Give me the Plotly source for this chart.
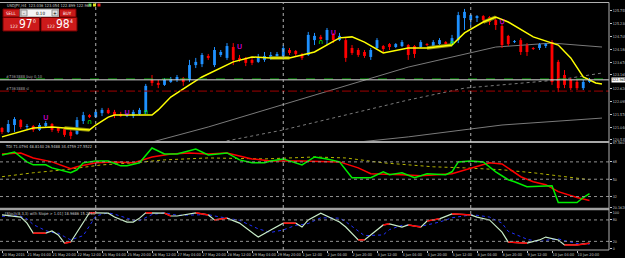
import plotly.graph_objects as go

# ---------------- data ----------------
bars = list(range(95))
opens = [121.02,120.86,121.14,121.34,121.06,121.10,120.94,121.10,121.18,121.02,
         120.98,120.86,120.78,121.30,121.54,121.46,121.62,121.75,121.67,121.58,
         121.50,121.50,121.58,121.67,122.96,122.84,122.76,122.88,122.96,123.04,
         122.96,123.56,123.60,123.93,123.56,123.97,123.85,124.29,123.85,123.85,
         123.77,123.69,123.77,123.85,123.89,123.85,124.17,124.13,123.97,123.97,
         124.57,124.70,124.57,124.78,124.57,124.57,124.25,124.17,124.09,123.89,
         124.25,124.33,124.41,124.29,124.33,124.37,124.33,124.29,124.41,124.33,
         124.41,124.49,124.41,124.57,125.46,125.38,125.46,125.54,125.50,125.38,
         125.14,124.74,124.49,124.57,124.37,124.25,124.25,124.33,124.49,123.69,
         123.16,122.96,122.88,122.63,122.88]
highs = [121.06,121.34,121.46,121.38,121.18,121.14,121.22,121.30,121.22,121.06,
         121.02,120.94,121.46,121.67,121.58,121.75,121.83,121.83,121.75,121.67,
         121.62,121.75,121.83,122.80,123.16,122.96,123.04,123.08,123.16,123.08,
         123.77,123.85,124.05,124.01,124.29,124.17,124.45,124.45,123.97,123.89,
         123.85,124.01,124.09,124.09,124.09,124.37,124.25,124.17,124.05,124.90,
         124.86,124.78,125.06,124.86,124.86,124.65,124.37,124.25,124.17,124.25,
         124.65,124.37,124.45,124.45,124.57,124.41,124.37,124.57,124.45,124.57,
         124.65,124.53,124.78,125.71,125.83,125.62,125.58,125.58,125.54,125.46,
         125.22,124.78,124.57,124.65,124.45,124.29,124.45,124.45,124.57,123.77,
         123.36,123.04,122.96,122.96,123.04]
lows = [120.78,120.82,120.86,120.98,120.98,120.86,120.90,121.02,120.86,120.82,
        120.66,120.57,120.74,121.18,121.42,121.42,121.50,121.58,121.42,121.46,
        121.46,121.42,121.54,121.58,122.72,122.63,122.72,122.84,122.88,122.72,
        122.88,123.44,123.48,123.77,123.48,123.89,123.77,123.56,123.69,123.52,
        123.56,123.65,123.69,123.77,123.85,123.77,123.97,123.93,123.77,123.93,
        124.37,124.57,124.37,124.45,124.53,123.69,123.97,123.89,123.85,123.77,
        124.17,124.09,124.17,124.25,124.29,123.77,123.85,124.25,124.33,124.29,
        124.37,124.37,124.37,124.45,124.98,125.18,125.30,125.30,125.18,124.98,
        124.25,124.33,124.45,123.97,123.93,124.17,124.17,124.25,122.76,122.47,
        122.63,122.55,122.55,122.55,122.84]
closes = [120.86,121.18,121.38,121.06,121.10,120.94,121.14,121.22,120.94,120.90,
          120.74,120.70,121.34,121.54,121.46,121.67,121.75,121.62,121.54,121.50,
          121.58,121.67,121.75,122.72,122.84,122.76,122.96,123.00,123.08,122.88,
          123.56,123.69,123.97,123.85,124.17,124.09,124.33,123.77,123.77,123.65,
          123.65,123.89,123.93,123.97,124.01,124.25,124.05,124.01,123.85,124.78,
          124.74,124.61,124.98,124.57,124.74,123.85,124.05,123.97,123.93,124.17,
          124.57,124.21,124.29,124.41,124.49,123.97,124.01,124.49,124.37,124.49,
          124.57,124.41,124.65,125.58,125.71,125.58,125.54,125.38,125.30,125.18,
          124.37,124.41,124.53,124.09,124.09,124.21,124.41,124.41,122.88,122.63,
          122.76,122.63,122.63,122.88,122.96]

ma_bars = [0,3,5,8,10,14,15,17,18,24,25,27,30,32,37,40,43,46,50,54,56,58,61,65,68,72,74,77,79,81,85,89,91,93,95,96]
ma_vals = [120.66,120.86,121.02,121.06,121.02,120.94,121.14,121.46,121.54,121.54,121.75,122.27,122.76,123.08,
           123.69,123.89,123.85,123.85,124.09,124.66,124.70,124.49,124.05,124.25,124.25,124.37,124.86,125.30,
           125.50,125.30,124.70,124.37,123.85,123.08,122.84,122.80]
ma_flat_ranges = [(10, 14), (43, 46), (68, 72), (77, 79)]

gray_a_bars = [24, 33, 65, 79, 88, 96]
gray_a_vals = [120.45, 121.06, 123.48, 124.29, 124.45, 124.29]
gray_b_bars = [35, 45, 65, 74, 89, 96]
gray_b_vals = [120.45, 120.94, 122.15, 122.63, 122.96, 123.24]
gray_c_bars = [57, 65, 80, 96]
gray_c_vals = [120.45, 120.66, 121.14, 121.42]

up_sig_bars = [7, 20, 38, 53, 80]
up_sig_vals = [121.42, 121.62, 124.29, 124.86, 125.30]
dn_sig_bars = [14, 23, 51, 72]
dn_sig_vals = [121.26, 121.67, 124.49, 124.45]

buy_level = 123.00
bid_price = 122.965
sl_level = 122.51

price_ticks = [125.755,125.230,124.705,124.180,123.670,123.165,122.620,122.095,121.570,121.040,120.535]

tdi_green_bars = [0,2,4,5,7,8,11,12,13,15,17,19,20,22,24,26,28,31,33,36,38,40,42,43,45,48,50,52,54,56,59,61,62,64,66,68,71,72,73,75,77,79,81,82,84,87,88,89,91,92,93,94]
tdi_green_vals = [75.2,78.3,68.0,64.9,64.9,61.8,56.7,59.8,67.0,69.0,69.0,63.9,63.9,67.0,82.4,76.2,76.2,81.4,75.2,77.3,70.1,67.0,67.0,69.0,71.1,64.9,73.1,71.1,68.0,51.5,51.5,57.7,54.6,56.7,51.5,55.7,54.6,57.7,68.0,69.0,68.0,57.7,49.5,47.4,42.3,43.3,43.3,25.8,25.8,25.8,31.0,35.1]
tdi_red_bars = [0,3,5,8,11,12,15,18,21,24,27,30,33,36,40,43,48,54,57,59,64,67,72,76,78,80,83,85,87,89,92,94]
tdi_red_vals = [76.2,77.3,72.1,68.0,60.8,62.9,67.0,68.0,67.0,73.1,76.2,77.3,76.2,77.3,71.1,69.0,69.0,68.0,61.8,55.7,54.6,53.6,55.7,62.9,67.0,65.9,52.6,47.4,44.3,37.1,31.0,27.9]
tdi_base_bars = [0,5,10,16,21,26,33,42,50,55,61,65,69,74,80,85,90,94]
tdi_base_vals = [52.6,56.7,59.8,64.9,67.0,70.1,72.1,71.1,73.1,72.1,67.0,64.9,62.9,61.8,59.8,56.7,52.6,49.5]
tdi_levels = [68, 50, 32]
tdi_ticks = [87.5607, 68, 50, 32, 20.1628]
tdi_ticktext = ["87.5607", "68", "50", "32", "20.1628"]

st_bars = [0,2,3,4,5,7,8,9,10,11,13,14,15,17,18,20,21,22,23,24,26,27,28,31,33,34,36,38,41,43,45,47,48,49,51,54,55,57,58,61,62,64,65,67,68,70,72,75,76,78,80,81,84,86,87,89,90,92,94]
st_main = [94,91,88,71,43,43,49,38,15,18,74,100,100,99,88,74,74,85,100,100,99,91,91,100,94,80,85,71,32,52,71,71,60,80,99,74,60,24,24,66,69,60,66,60,77,83,97,94,88,80,46,18,15,24,32,24,10,10,15]
st_signal = [90,92,90,83,67,50,45,43,33,24,36,64,91,100,96,85,79,78,86,95,100,96,93,94,95,91,86,79,55,45,52,65,67,70,86,85,75,48,36,38,53,65,65,62,66,74,86,94,93,88,71,48,26,19,23,27,22,14,12]
st_red_ranges = [(5,7),(10,11),(14,15),(23,24),(26,27),(31,33),(34,36),(45,47),(57,58),(61,62),(65,67),(68,70),(72,75),(81,84),(90,94)]
st_levels = [80, 20]
st_ticks = [100, 80, 20, 0]

date_ticks = list(range(0, 93, 4))
date_labels = ["20 May 2015","21 May 04:00","21 May 20:00","22 May 12:00","25 May 04:00","25 May 20:00",
               "26 May 12:00","27 May 04:00","27 May 20:00","28 May 12:00","29 May 04:00","29 May 20:00",
               "1 Jun 12:00","2 Jun 04:00","2 Jun 20:00","3 Jun 12:00","4 Jun 04:00","4 Jun 20:00",
               "5 Jun 12:00","8 Jun 04:00","8 Jun 20:00","9 Jun 12:00","10 Jun 04:00","10 Jun 20:00"]
week_seps = [15, 45, 75]

title_text = "USDJPY,H4  123.036 123.054 122.899 122.965"
tdi_label = "TDI 71.0794 48.8140 26.5488 34.4759 27.5522"
st_label = "[Stoch(8,3,3) with Slope > 1.01] 18.9686 15.2260"

# ---------------- figure ----------------
UP = "#1E90FF"
DN = "#FF0000"
FG = "#c8c8c8"
FONT = "DejaVu Sans Condensed, DejaVu Sans"
AX_SIZE = 3.7
fig = go.Figure()

fig.add_trace(go.Scatter(x=gray_a_bars, y=gray_a_vals, mode="lines", line=dict(color="#7a7a7a", width=1), xaxis="x", yaxis="y"))
fig.add_trace(go.Scatter(x=gray_b_bars, y=gray_b_vals, mode="lines", line=dict(color="#7a7a7a", width=1, dash="dot"), xaxis="x", yaxis="y"))
fig.add_trace(go.Scatter(x=gray_c_bars, y=gray_c_vals, mode="lines", line=dict(color="#7a7a7a", width=1), xaxis="x", yaxis="y"))

for col, cond in ((UP, lambda o, c: c >= o), (DN, lambda o, c: c < o)):
    wx, wy, bx, bh, bb = [], [], [], [], []
    for i, o, h, l, c in zip(bars, opens, highs, lows, closes):
        if cond(o, c):
            wx += [i, i, None]
            wy += [l, h, None]
            bx.append(i)
            bh.append(max(abs(c - o), 0.025))
            bb.append(min(o, c))
    fig.add_trace(go.Scatter(x=wx, y=wy, mode="lines", line=dict(color=col, width=1), xaxis="x", yaxis="y"))
    fig.add_trace(go.Bar(x=bx, y=bh, base=bb, width=0.45, marker=dict(color=col, line=dict(width=0)), xaxis="x", yaxis="y"))

for a, b in ma_flat_ranges:
    xs = [x for x in ma_bars if a <= x <= b]
    ys = [v for x, v in zip(ma_bars, ma_vals) if a <= x <= b]
    fig.add_trace(go.Scatter(x=xs, y=ys, mode="lines", line=dict(color="#8a8a10", width=3.5), xaxis="x", yaxis="y"))
fig.add_trace(go.Scatter(x=ma_bars, y=ma_vals, mode="lines", line=dict(color="#ffff00", width=1.5), xaxis="x", yaxis="y"))

fig.add_trace(go.Scatter(x=up_sig_bars, y=up_sig_vals, mode="text", text=["U"] * len(up_sig_bars),
                         textfont=dict(color="#ff00ff", size=7, family="DejaVu Sans"), xaxis="x", yaxis="y"))
fig.add_trace(go.Scatter(x=dn_sig_bars, y=dn_sig_vals, mode="text", text=["\u2229"] * len(dn_sig_bars),
                         textfont=dict(color="#00ff00", size=7, family="DejaVu Sans"), xaxis="x", yaxis="y"))

fig.add_trace(go.Scatter(x=tdi_base_bars, y=tdi_base_vals, mode="lines", line=dict(color="#b4b400", width=1, dash="dot"), xaxis="x2", yaxis="y2"))
fig.add_trace(go.Scatter(x=tdi_red_bars, y=tdi_red_vals, mode="lines", line=dict(color="#ff0000", width=1.5), xaxis="x2", yaxis="y2"))
fig.add_trace(go.Scatter(x=tdi_green_bars, y=tdi_green_vals, mode="lines", line=dict(color="#00ee00", width=1.5), xaxis="x2", yaxis="y2"))

fig.add_trace(go.Scatter(x=st_bars, y=st_signal, mode="lines", line=dict(color="#2030ff", width=1, dash="dot"), xaxis="x3", yaxis="y3"))
fig.add_trace(go.Scatter(x=st_bars, y=st_main, mode="lines", line=dict(color="#c8ecc8", width=1.2), xaxis="x3", yaxis="y3"))
rx, ry = [], []
for a, b in st_red_ranges:
    for x, v in zip(st_bars, st_main):
        if a <= x <= b:
            rx.append(x); ry.append(v)
    rx.append(None); ry.append(None)
fig.add_trace(go.Scatter(x=rx, y=ry, mode="lines", line=dict(color="#ff0000", width=1.5), xaxis="x3", yaxis="y3"))

# ---------------- layout ----------------
XR = [-0.32, 97.12]
PAPER_H = 250.0
def fy(px):
    return (PAPER_H - px) / PAPER_H

ax_common = dict(range=XR, showgrid=False, zeroline=False, showline=False, fixedrange=True, automargin=False)
yax_common = dict(side="right", showgrid=False, zeroline=False, showline=False, ticks="outside", ticklen=2,
                  tickcolor=FG, automargin=False, tickfont=dict(size=AX_SIZE, color=FG, family=FONT))

shapes = []
shapes.append(dict(type="line", xref="x", yref="y", x0=XR[0], x1=XR[1], y0=buy_level, y1=buy_level, line=dict(color="#00a000", width=1, dash="dash")))
shapes.append(dict(type="line", xref="x", yref="y", x0=XR[0], x1=XR[1], y0=bid_price, y1=bid_price, line=dict(color="#d8d8d8", width=1)))
shapes.append(dict(type="line", xref="x", yref="y", x0=XR[0], x1=XR[1], y0=sl_level, y1=sl_level, line=dict(color="#a00000", width=1, dash="dashdot")))
for lv in tdi_levels:
    shapes.append(dict(type="line", xref="x2", yref="y2", x0=XR[0], x1=XR[1], y0=lv, y1=lv, line=dict(color="#909090", width=1, dash="dot")))
for lv in st_levels:
    shapes.append(dict(type="line", xref="x3", yref="y3", x0=XR[0], x1=XR[1], y0=lv, y1=lv, line=dict(color="#909090", width=1, dash="dot")))
for w in week_seps:
    shapes.append(dict(type="line", xref="x", yref="paper", x0=w, x1=w, y0=0, y1=fy(3), line=dict(color="#b0b0b0", width=1, dash="dot")))
shapes.append(dict(type="line", xref="paper", yref="paper", x0=0, x1=1, y0=fy(2.5), y1=fy(2.5), line=dict(color="#b0b0b0", width=1)))
shapes.append(dict(type="line", xref="paper", yref="paper", x0=0, x1=1, y0=fy(142), y1=fy(142), line=dict(color="#e0e0e0", width=1.5)))
shapes.append(dict(type="line", xref="paper", yref="paper", x0=0, x1=1, y0=fy(209), y1=fy(209), line=dict(color="#a0a0a0", width=2.5)))
shapes.append(dict(type="line", xref="paper", yref="paper", x0=0, x1=1, y0=fy(250), y1=fy(250), line=dict(color="#b0b0b0", width=1)))
shapes.append(dict(type="line", xref="paper", yref="paper", x0=1, x1=1, y0=0, y1=fy(2.5), line=dict(color="#b0b0b0", width=1)))

def px_x(px):
    return px / 609.0
def rect(x0, y0, x1, y1, fill, line="#700000"):
    shapes.append(dict(type="rect", xref="paper", yref="paper", x0=px_x(x0), x1=px_x(x1), y0=fy(y1), y1=fy(y0),
                       fillcolor=fill, line=dict(color=line, width=1), layer="above"))
rect(3, 9, 19.5, 17, "#c81818")
rect(20, 9, 59, 17, "#f4f4f4", "#909090")
rect(21, 10, 27, 16, "#e0e0e0", "#909090")
rect(52, 10, 58, 16, "#e0e0e0", "#909090")
rect(59.5, 9, 76, 17, "#c81818")
rect(3, 17.5, 39.5, 31, "#cc1a1a")
rect(41, 17.5, 77, 31, "#cc1a1a")
for cx, colr in ((90, "#20d020"), (94.5, "#e0e020"), (99, "#e02020")):
    shapes.append(dict(type="rect", xref="paper", yref="paper", x0=px_x(cx - 1.5), x1=px_x(cx + 1.5), y0=fy(6.5), y1=fy(3.5),
                       fillcolor=colr, line=dict(width=0), layer="above"))

ann = []
def txt(x, y, s, size, color=FG, xanchor="left", yanchor="middle"):
    ann.append(dict(xref="paper", yref="paper", x=px_x(x), y=fy(y), text=s, showarrow=False, xanchor=xanchor, yanchor=yanchor,
                    font=dict(size=size, color=color, family=FONT)))
txt(5, 5.2, title_text, 4)
txt(11.2, 13, "SELL", 4.5, "#ffffff", "center")
txt(24, 13, "-", 5, "#000000", "center")
txt(40, 13, "0.10", 4.5, "#000000", "center")
txt(55, 13, "+", 5, "#000000", "center")
txt(67.8, 13, "BUY", 4.5, "#ffffff", "center")
txt(13.5, 27, "122", 4.5, "#ffffff", "center")
txt(25.5, 24.5, "97", 12, "#ffffff", "center")
txt(34.5, 21, "0", 5, "#ffffff", "center")
txt(50.5, 27, "122", 4.5, "#ffffff", "center")
txt(62.5, 24.5, "98", 12, "#ffffff", "center")
txt(71.5, 21, "4", 5, "#ffffff", "center")
txt(4, 76.5, "#7363888 buy 0.10", 4, "#a0a0a0")
txt(4, 88.5, "#7363888 sl", 4, "#a0a0a0")
txt(3, 146.5, tdi_label, 4)
txt(3, 213, st_label, 4)
ann.append(dict(xref="paper", yref="y", x=1.003, y=bid_price, text="122.965", showarrow=False, xanchor="left", yanchor="middle",
                font=dict(size=AX_SIZE, color="#000000", family=FONT), bgcolor="#ffffff", borderpad=0))

fig.update_layout(
    width=625, height=258,
    margin=dict(l=0, r=16, t=0, b=8, autoexpand=False),
    paper_bgcolor="#000000", plot_bgcolor="#000000",
    showlegend=False, hovermode=False, barmode="overlay",
    xaxis=dict(**ax_common, showticklabels=False, anchor="y", domain=[0, 1]),
    xaxis2=dict(**ax_common, showticklabels=False, anchor="y2", domain=[0, 1]),
    xaxis3=dict(**ax_common, anchor="y3", domain=[0, 1], tickmode="array", tickvals=date_ticks, ticktext=date_labels,
                ticks="outside", ticklen=2, tickcolor=FG, ticklabelposition="outside right", tickangle=0,
                tickfont=dict(size=3.8, color=FG, family=FONT)),
    yaxis=dict(**yax_common, domain=[fy(141), fy(3)], range=[126.19 - 0.0404 * 141, 126.19 - 0.0404 * 3],
               tickmode="array", tickvals=price_ticks, ticktext=["%.3f" % v for v in price_ticks], anchor="x"),
    yaxis2=dict(**yax_common, domain=[fy(208), fy(143)], range=[20.10, 87.62], tickmode="array",
                tickvals=tdi_ticks, ticktext=tdi_ticktext, anchor="x2"),
    yaxis3=dict(**yax_common, domain=[0, fy(210)], range=[-4.2, 107.8], tickmode="array",
                tickvals=st_ticks, ticktext=[str(v) for v in st_ticks], anchor="x3"),
    shapes=shapes, annotations=ann,
)

fig.write_html("out.html", config={"displayModeBar": False, "staticPlot": True})
